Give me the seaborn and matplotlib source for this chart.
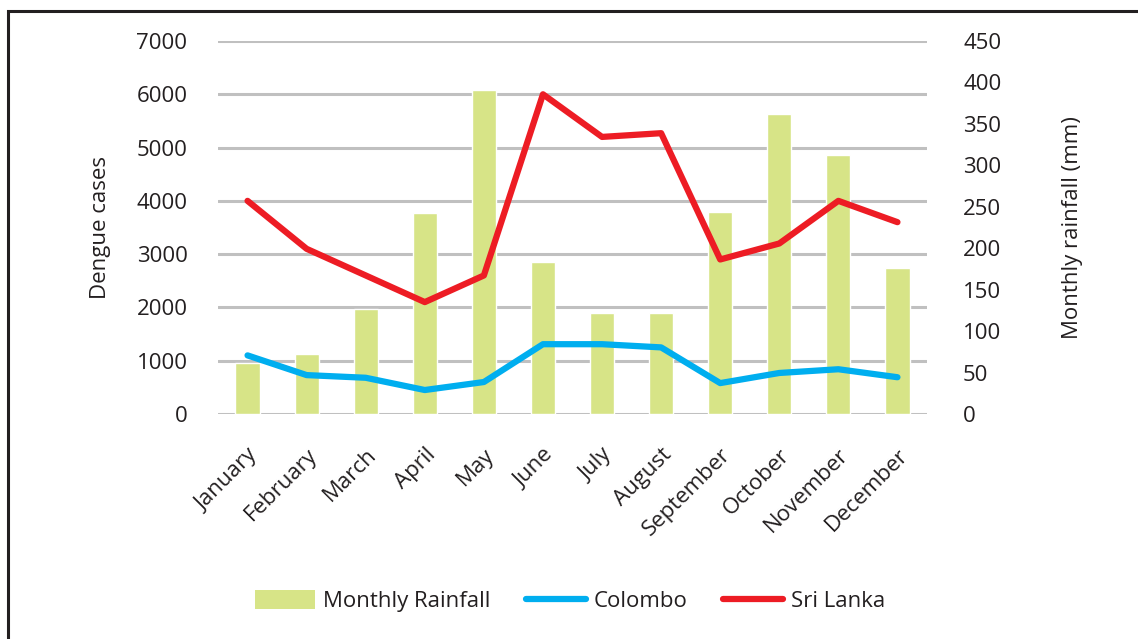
import matplotlib
matplotlib.use("Agg")
import matplotlib.pyplot as plt
import seaborn as sns
import pandas as pd
import numpy as np
from matplotlib.patches import Rectangle, Patch
from matplotlib.lines import Line2D

months = ["January", "February", "March", "April", "May", "June", "July",
          "August", "September", "October", "November", "December"]
rainfall_mm = [61, 72, 127, 242, 391, 183, 122, 122, 244, 362, 312, 176]
colombo = [1100, 730, 680, 450, 600, 1310, 1310, 1250, 580, 770, 840, 690]
sri_lanka = [4000, 3100, 2600, 2100, 2600, 6000, 5200, 5270, 2900, 3200, 4000, 3600]

left_ticks = list(range(0, 7001, 1000))
right_ticks = list(range(0, 451, 50))

BAR_C = "#D7E487"
BLUE = "#00AEEF"
RED = "#ED1C24"
TXT = "#231F20"
FONT = "Open Sans"
FS = 16

sns.set_theme(style="white")
plt.rcParams["font.family"] = [FONT, "DejaVu Sans"]
plt.rcParams["text.color"] = TXT
plt.rcParams["axes.labelcolor"] = TXT
plt.rcParams["xtick.color"] = TXT
plt.rcParams["ytick.color"] = TXT

df = pd.DataFrame({"month": months, "rain": rainfall_mm,
                   "Colombo": colombo, "Sri Lanka": sri_lanka})

fig = plt.figure(figsize=(11.38, 6.39), dpi=100)
pos = [218/1138, 1-414/639, (927-218)/1138, (414-41)/639]
ax1 = fig.add_axes(pos)          # grid + left axis
ax2 = ax1.twinx()                # bars (right axis)
ax3 = ax1.twinx()                # lines (left scale)

ax1.set_zorder(0)
ax2.set_zorder(1)
ax3.set_zorder(2)
ax2.patch.set_visible(False)
ax3.patch.set_visible(False)

sns.barplot(data=df, x="month", y="rain", color=BAR_C, width=0.41,
            saturation=1, ax=ax2, zorder=2)
sns.lineplot(data=df, x="month", y="Colombo", color=BLUE, linewidth=4.5,
             ax=ax3, sort=False, solid_capstyle="round")
sns.lineplot(data=df, x="month", y="Sri Lanka", color=RED, linewidth=4.5,
             ax=ax3, sort=False, solid_capstyle="round")

for ax in (ax1, ax2, ax3):
    for s in ax.spines.values():
        s.set_visible(False)
    ax.set_xlabel("")

ax1.set_ylim(0, 7000)
ax3.set_ylim(0, 7000)
ax2.set_ylim(0, 450)

ax1.set_yticks(left_ticks)
ax1.set_yticklabels([str(v) for v in left_ticks], fontsize=FS)
ax1.yaxis.grid(True, color="#C0C0C0", linewidth=2.2)
ax1.xaxis.grid(False)
ax1.set_axisbelow(True)
ax1.tick_params(axis="y", length=0, pad=22)
ax1.set_ylabel("Dengue cases", fontsize=FS, labelpad=18)

ax2.set_yticks(right_ticks)
ax2.set_yticklabels([str(v) for v in right_ticks], fontsize=FS)
ax2.tick_params(axis="y", length=0, pad=26)
ax2.set_ylabel("Monthly rainfall (mm)", fontsize=FS, labelpad=44)
ax2.grid(False)

ax3.set_yticks([])
ax3.set_ylabel("")
ax3.grid(False)
if ax3.get_legend():
    ax3.get_legend().remove()

# shared x axis: set categories last
ax1.set_xlim(-0.5, 11.5)
ax1.set_xticks(range(len(months)))
ax1.set_xticklabels(months, fontsize=FS, rotation=45, ha="right",
                    rotation_mode="anchor")
ax1.tick_params(axis="x", length=0, pad=22, labelbottom=True)
ax1.xaxis.set_visible(True)

handles = [Patch(facecolor=BAR_C, edgecolor="none", label="Monthly Rainfall"),
           Line2D([], [], color=BLUE, linewidth=4.5, solid_capstyle="round", label="Colombo"),
           Line2D([], [], color=RED, linewidth=4.5, solid_capstyle="round", label="Sri Lanka")]
fig.legend(handles=handles, loc="center", bbox_to_anchor=(570/1138, 1-601/639),
           ncol=3, frameon=False, fontsize=FS, handlelength=2.7,
           handletextpad=0.35, columnspacing=1.6, handleheight=0.9)

fig.patches.append(Rectangle((8/1138, -0.2), 1.2, 1-11/639+0.2,
                             transform=fig.transFigure, fill=False,
                             edgecolor="#231F20", linewidth=2.2))

fig.savefig("out.png", dpi=100)
